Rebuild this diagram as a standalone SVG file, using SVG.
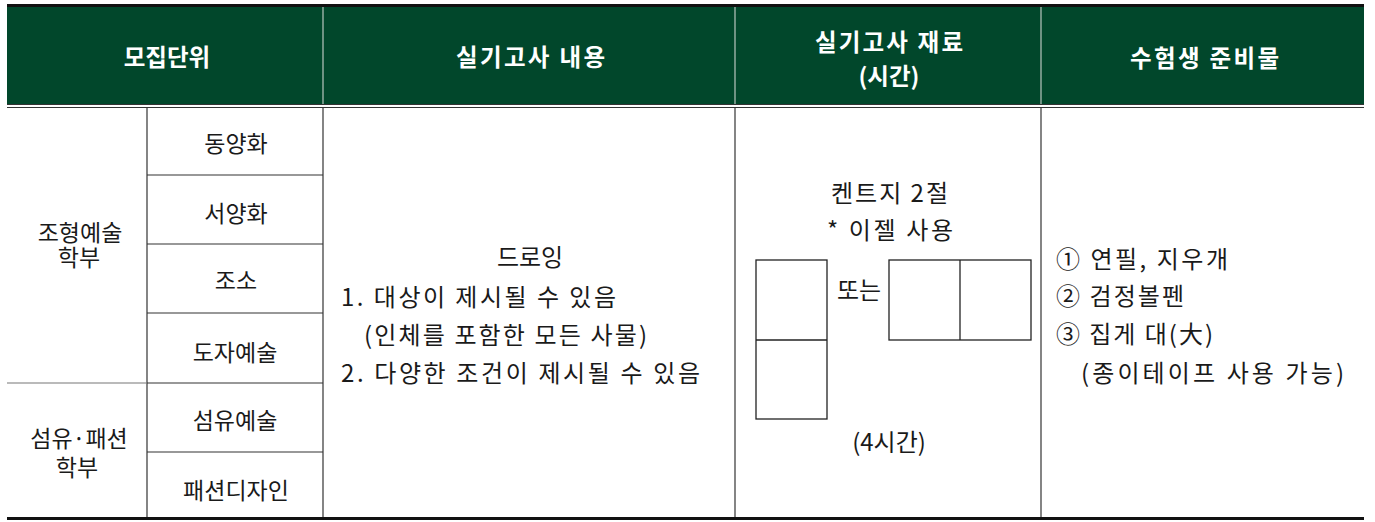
<svg xmlns="http://www.w3.org/2000/svg" width="1375" height="522" viewBox="0 0 1375 522">
  <style>
    text { font-family: "Noto Sans CJK KR", "Noto Sans", sans-serif; font-size: 23px; fill: #1a1a1a; dominant-baseline: central; }
    .b { font-size: 24px; }
    .hd { font-size: 23.5px; font-weight: bold; fill: #ffffff; }
    .c { text-anchor: middle; }
    .grid { stroke: #333333; stroke-width: 1.2; fill: none; }
    .light { stroke: #777777; stroke-width: 1.2; fill: none; }
    .hsep { stroke: #b9c7bf; stroke-width: 1.2; }
    .paper { stroke: #222222; stroke-width: 1.3; fill: #ffffff; }
  </style>

  <rect x="0" y="0" width="1375" height="522" fill="#ffffff"/>

  <g id="header">
    <rect x="7" y="4" width="1357" height="3" fill="#111111"/>
    <rect x="7" y="7" width="1357" height="97" fill="#01472b"/>
    <line class="hsep" x1="323" y1="7" x2="323" y2="104"/>
    <line class="hsep" x1="735" y1="7" x2="735" y2="104"/>
    <line class="hsep" x1="1041" y1="7" x2="1041" y2="104"/>
    <line x1="7" y1="104.5" x2="1364" y2="104.5" stroke="#333333" stroke-width="1"/>
    <line x1="7" y1="107.5" x2="1364" y2="107.5" stroke="#333333" stroke-width="1.2"/>
    <text class="hd c" x="167" y="56">모집단위</text>
    <text class="hd" x="456" y="56" textLength="149" lengthAdjust="spacing">실기고사 내용</text>
    <text class="hd" x="815" y="41"><tspan textLength="148" lengthAdjust="spacing">실기고사 재료</tspan><tspan class="c" x="889" y="75" text-anchor="middle">(시간)</tspan></text>
    <text class="hd" x="1130" y="57" textLength="149" lengthAdjust="spacing">수험생 준비물</text>
  </g>

  <g id="connectors">
    <line class="grid" x1="147" y1="108" x2="147" y2="518"/>
    <line class="grid" x1="323" y1="108" x2="323" y2="518"/>
    <line class="grid" x1="735" y1="108" x2="735" y2="518"/>
    <line class="grid" x1="1041" y1="108" x2="1041" y2="518"/>
    <line class="grid" x1="147" y1="175" x2="323" y2="175"/>
    <line class="grid" x1="147" y1="244" x2="323" y2="244"/>
    <line class="grid" x1="147" y1="313" x2="323" y2="313"/>
    <line class="grid" x1="147" y1="383" x2="323" y2="383"/>
    <line class="light" x1="7" y1="383" x2="147" y2="383"/>
    <line class="grid" x1="147" y1="452" x2="323" y2="452"/>
    <rect x="7" y="517" width="1357" height="3" fill="#111111"/>
  </g>

  <g id="group-art">
    <text class="c" x="80" y="231">조형예술<tspan x="79" y="256">학부</tspan></text>
  </g>
  <g id="group-fashion">
    <text class="c" x="79" y="437">섬유·패션<tspan x="77" y="466">학부</tspan></text>
  </g>

  <g id="unit-dongyang"><text class="c" x="236" y="142">동양화</text></g>
  <g id="unit-seoyang"><text class="c" x="236" y="212">서양화</text></g>
  <g id="unit-joso"><text class="c" x="236" y="279">조소</text></g>
  <g id="unit-doja"><text class="c" x="235" y="351">도자예술</text></g>
  <g id="unit-seomyu"><text class="c" x="235" y="419">섬유예술</text></g>
  <g id="unit-fashion"><text class="c" x="236" y="489">패션디자인</text></g>

  <g id="exam-content">
    <text class="b c" x="530" y="255">드로잉</text>
    <text class="b" x="341" y="295" textLength="275" lengthAdjust="spacing">1. 대상이 제시될 수 있음</text>
    <text class="b" x="364" y="333" textLength="283" lengthAdjust="spacing">(인체를 포함한 모든 사물)</text>
    <text class="b" x="341" y="371" textLength="359" lengthAdjust="spacing">2. 다양한 조건이 제시될 수 있음</text>
  </g>

  <g id="exam-material">
    <text class="b" x="831" y="191" textLength="117" lengthAdjust="spacing">켄트지 2절</text>
    <text class="b" x="827" y="228" textLength="126" lengthAdjust="spacing">* 이젤 사용</text>
    <rect class="paper" x="756" y="260" width="71" height="159"/>
    <line class="paper" x1="756" y1="340" x2="827" y2="340"/>
    <text class="b c" x="859" y="288">또는</text>
    <rect class="paper" x="889" y="260" width="142" height="80"/>
    <line class="paper" x1="960" y1="260" x2="960" y2="340"/>
    <text class="b c" x="889" y="440">(4시간)</text>
  </g>

  <g id="supplies">
    <text class="b" x="1056" y="257" textLength="172" lengthAdjust="spacing">① 연필, 지우개</text>
    <text class="b" x="1056" y="294" textLength="128" lengthAdjust="spacing">② 검정볼펜</text>
    <text class="b" x="1056" y="332" textLength="157" lengthAdjust="spacing">③ 집게 대(大)</text>
    <text class="b" x="1081" y="371" textLength="263" lengthAdjust="spacing">(종이테이프 사용 가능)</text>
  </g>
</svg>
